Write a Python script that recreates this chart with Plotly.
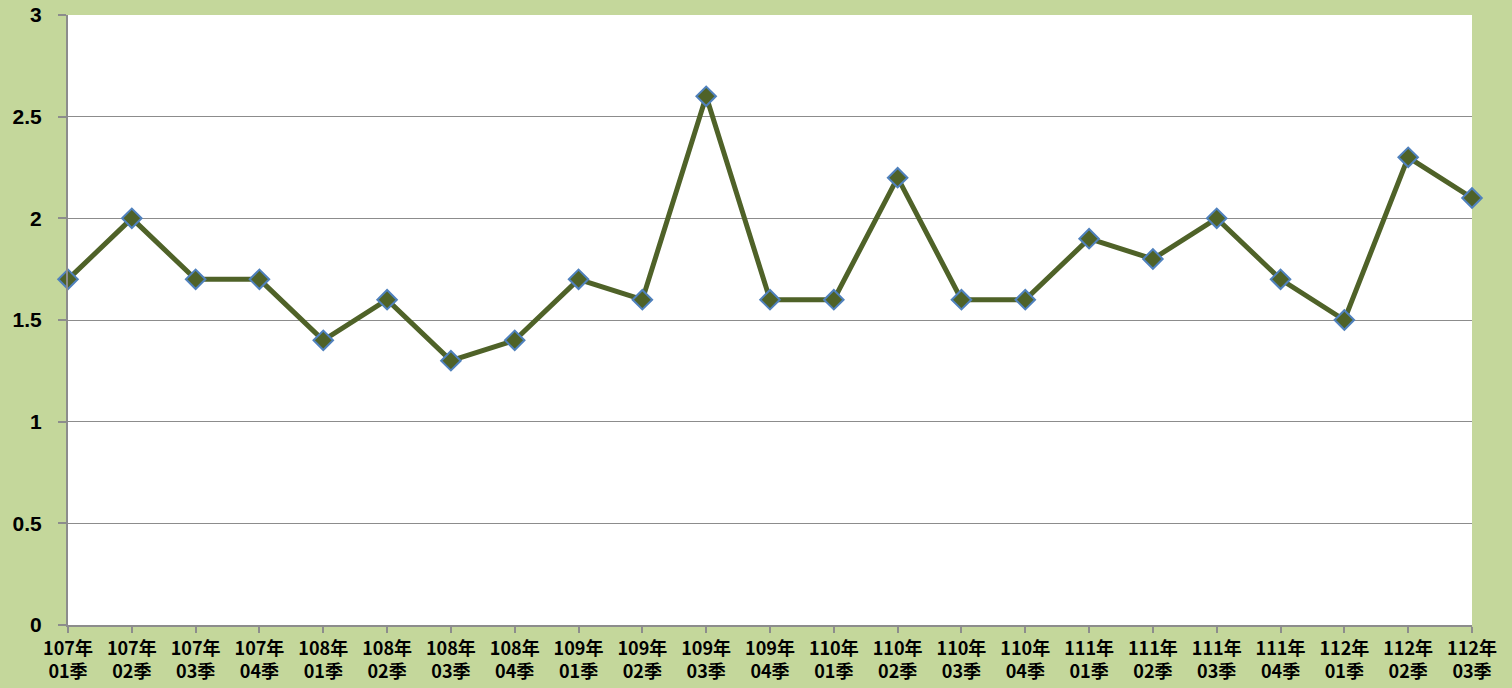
import plotly.graph_objects as go

years = ["107", "107", "107", "107", "108", "108", "108", "108", "109", "109", "109", "109",
         "110", "110", "110", "110", "111", "111", "111", "111", "112", "112", "112"]
quarters = ["01", "02", "03", "04", "01", "02", "03", "04", "01", "02", "03", "04",
            "01", "02", "03", "04", "01", "02", "03", "04", "01", "02", "03"]
values = [1.7, 2.0, 1.7, 1.7, 1.4, 1.6, 1.3, 1.4, 1.7, 1.6, 2.6, 1.6,
          1.6, 2.2, 1.6, 1.6, 1.9, 1.8, 2.0, 1.7, 1.5, 2.3, 2.1]
y_ticks = [0, 0.5, 1, 1.5, 2, 2.5, 3]
y_tick_text = ["0", "0.5", "1", "1.5", "2", "2.5", "3"]

labels = [f"{y}年<br>{q}季" for y, q in zip(years, quarters)]
xs = list(range(len(values)))

fig = go.Figure()
fig.add_trace(go.Scatter(
    x=xs, y=values, mode="lines+markers",
    line=dict(color="#4F6228", width=5),
    marker=dict(symbol="diamond", size=15, color="#4F6228",
                line=dict(color="#4F81BD", width=2)),
    cliponaxis=False,
))

fig.update_layout(
    width=1512, height=688,
    paper_bgcolor="#C4D79B", plot_bgcolor="#FFFFFF",
    margin=dict(l=68, r=40, t=15, b=63, autoexpand=False),
    showlegend=False,
    font=dict(family="Noto Sans CJK TC, Liberation Sans, sans-serif", color="#000000"),
)
fig.update_xaxes(
    range=[0, len(values) - 1], tickmode="array", tickvals=xs, ticktext=labels,
    showgrid=False, zeroline=False, showline=True, linecolor="#8C8C8C", linewidth=2,
    ticks="outside", ticklen=6, tickcolor="#8C8C8C", tickwidth=2,
    tickfont=dict(size=18, family="Noto Sans CJK TC", weight="bold"),
    tickangle=0, ticklabeloverflow="allow",
)
fig.update_yaxes(
    range=[0, 3], tickmode="array", tickvals=y_ticks, ticktext=y_tick_text,
    showgrid=True, gridcolor="#8C8C8C", gridwidth=1, zeroline=False,
    showline=True, linecolor="#8C8C8C", linewidth=2,
    ticks="outside", ticklen=8, tickcolor="#8C8C8C", tickwidth=2,
    tickfont=dict(size=21, family="Liberation Sans", weight="bold"),
    ticklabeloverflow="allow", ticklabelstandoff=12,
)
fig.write_html("out.html", config={"displayModeBar": False},
               post_script="document.body.style.margin='0';")
